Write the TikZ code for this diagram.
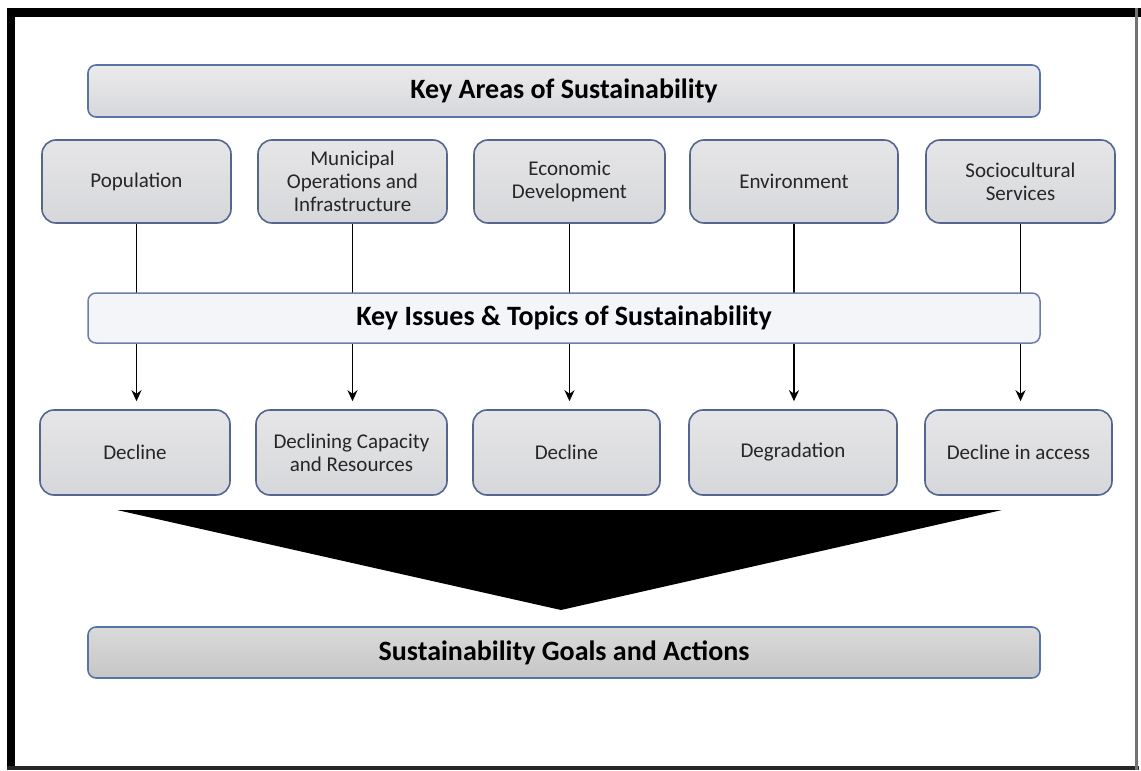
\documentclass[tikz,border=0pt]{standalone}
\usepackage{fontspec}
\setmainfont{Carlito}
\usetikzlibrary{arrows.meta,backgrounds}

\definecolor{boxedge}{HTML}{56658F}
\definecolor{boxtop}{HTML}{E6E6E8}
\definecolor{boxbot}{HTML}{D6D7DA}
\definecolor{baredge}{HTML}{5874A6}
\definecolor{issuefill}{HTML}{F4F5F9}
\definecolor{issueedge}{HTML}{6E7EA8}
\definecolor{goaltop}{HTML}{DADADA}
\definecolor{goalbot}{HTML}{C6C6C6}

\tikzset{
  areabox/.style={draw=boxedge, line width=1.6pt, rounded corners=14pt,
    top color=boxtop, bottom color=boxbot, align=center,
    inner sep=0pt, font=\fontsize{21}{23}\selectfont, text=black!85},
  titlebar/.style={draw=baredge, line width=1.6pt, rounded corners=8pt,
    top color=boxtop!80!white, bottom color=boxbot, inner sep=0pt,
    font=\fontsize{28}{30}\selectfont\bfseries, minimum width=952pt},
  issuebar/.style={draw=issueedge, line width=1.5pt, rounded corners=8pt,
    fill=issuefill, inner sep=0pt,
    font=\fontsize{28}{30}\selectfont\bfseries, minimum width=952pt},
  goalbar/.style={draw=baredge, line width=1.6pt, rounded corners=8pt,
    top color=goaltop, bottom color=goalbot, inner sep=0pt,
    font=\fontsize{28}{30}\selectfont\bfseries, minimum width=952pt},
  flow/.style={draw=black, line width=1.8pt,
    -{Stealth[length=11pt,width=10pt]}, shorten >=8pt}
}

\begin{document}
\begin{tikzpicture}[x=1pt,y=-1pt]
  \useasboundingbox (0,0) rectangle (1141,771);

  % outer frame: heavy top and left rules, light bottom and right
  \fill[black] (7,8) rectangle (15,770);
  \fill[black] (7,8) rectangle (1141,17);
  \fill[black!85] (7,766) rectangle (1139,770);
  \fill[black!55] (1135,8) rectangle (1138,770);

  % key areas header
  \node[titlebar, minimum height=52pt] (top) at (564,91) {Key Areas of Sustainability};

  % key areas
  \node[areabox, minimum width=189pt, minimum height=83pt] (a1) at (136.5,181.5) {Population};
  \node[areabox, minimum width=189pt, minimum height=83pt] (a2) at (352.5,181.5) {Municipal\\Operations and\\Infrastructure};
  \node[areabox, minimum width=191pt, minimum height=83pt] (a3) at (569.5,181.5) {Economic\\Development};
  \node[areabox, minimum width=208pt, minimum height=83pt] (a4) at (794,181.5) {Environment};
  \node[areabox, minimum width=189pt, minimum height=83pt] (a5) at (1020.5,181.5) {Sociocultural\\Services};

  % issues bar
  \node[issuebar, minimum height=50pt] (issues) at (564,318) {Key Issues \& Topics of Sustainability};

  % outcomes
  \node[areabox, minimum width=190pt, minimum height=85pt] (b1) at (135,452.5) {Decline};
  \node[areabox, minimum width=191pt, minimum height=85pt] (b2) at (351.5,452.5) {Declining Capacity\\and Resources};
  \node[areabox, minimum width=187pt, minimum height=85pt] (b3) at (566.5,452.5) {Decline};
  \node[areabox, minimum width=208pt, minimum height=85pt] (b4) at (793,452.5) {Degradation};
  \node[areabox, minimum width=187pt, minimum height=85pt] (b5) at (1018.5,452.5) {Decline in access};

  % connectors run behind the issues bar
  \begin{scope}[on background layer]
    \foreach \i in {1,...,5}
      \draw[flow] (a\i.south) -- (a\i.south |- b\i.north);
  \end{scope}

  % funnel
  \coordinate (fl) at (117,510);
  \coordinate (fr) at (1002,510);
  \coordinate (fa) at (561,610);
  \fill[black] (fl) -- (fr) -- (fa) -- cycle;

  % goals bar
  \node[goalbar, minimum height=51pt] (goals) at (564,652.5) {Sustainability Goals and Actions};
\end{tikzpicture}
\end{document}
